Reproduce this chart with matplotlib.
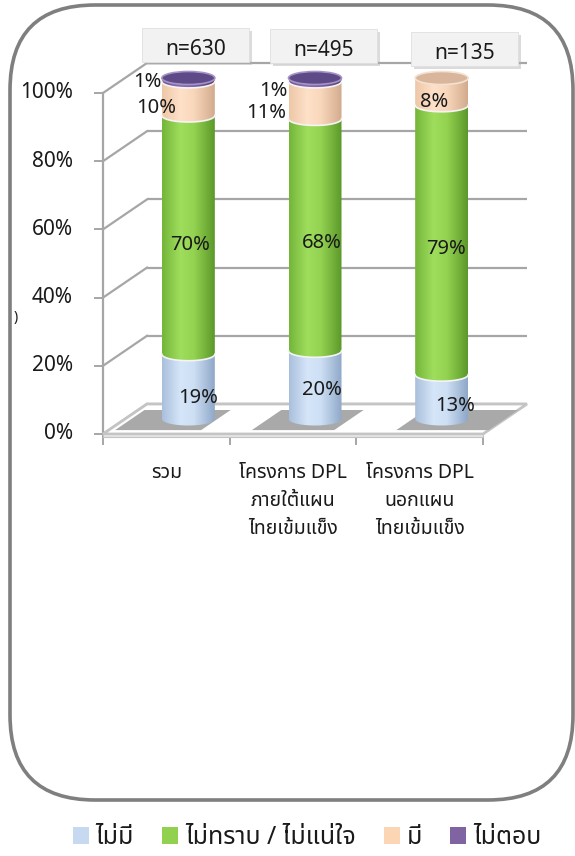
import numpy as np
import matplotlib
matplotlib.use("Agg")
import matplotlib.pyplot as plt
from matplotlib.patches import Polygon, Ellipse, PathPatch, FancyBboxPatch, Rectangle, Patch
from matplotlib.path import Path
from matplotlib.colors import LinearSegmentedColormap
from matplotlib.transforms import IdentityTransform

plt.rcParams['font.family'] = ['Noto Sans', 'Noto Sans Thai']

# ---- data -------------------------------------------------------------
categories = ['รวม',
              'โครงการ DPL\nภายใต้แผน\nไทยเข้มแข็ง',
              'โครงการ DPL\nนอกแผน\nไทยเข้มแข็ง']
sample_sizes = [630, 495, 135]
series_names = ['ไม่มี', 'ไม่ทราบ / ไม่แน่ใจ', 'มี', 'ไม่ตอบ']
no_values = [19, 20, 13]
unsure_values = [70, 68, 79]
yes_values = [10, 11, 8]
no_answer_values = [1, 1, 0]
y_ticks = [0, 20, 40, 60, 80, 100]

series_values = [no_values, unsure_values, yes_values, no_answer_values]

# ---- styling ----------------------------------------------------------
legend_colors = ['#c6d9f1', '#92d050', '#fcd5b5', '#8064a2']
body_stops = [
    ['#a9bfdc', '#d6e6f9', '#cddff4', '#8fa8c8'],
    ['#74b53a', '#9fdd5c', '#94d351', '#5b982a'],
    ['#eec7a7', '#fee1c9', '#f9d7bb', '#d2ab8d'],
    ['#6c5498', '#8b6eb4', '#7f62a7', '#513d77'],
]
cap_colors = ['#b8cde8', '#86c84a', '#d9b69b', '#5e4a86']
cap_edges = ['#e8f0fa', '#c8eca4', '#f3e1d2', '#a693c6']
text_color = '#1a1a1a'
grid_color = '#a6a6a6'

# label shifts in pixels (right, down) from each segment's centre
label_shift = [
    [(10, 11), (7, 5), (13, 9)],
    [(2, 10), (7, 8), (4, 9)],
    [(-32, 10), (-49, 13), (-8, 10)],
    [(-41, 2), (-42, 11), (0, 0)],
]
shadow_spans = [(-0.45, 0.23), (-0.37, 0.28), (-0.23, 0.5)]

W, H = 575, 856
fig = plt.figure(figsize=(W / 100, H / 100), dpi=100)
fig.patch.set_facecolor('white')


def fx(px):
    return px / W


def fy(py):
    return 1 - py / H


# front plane of the 3-D plot area
ax = fig.add_axes([fx(103), fy(434), fx(483) - fx(103), fy(93) - fy(434)])
ax.set_xlim(-0.5, len(categories) - 0.5)
ax.set_ylim(0, 100)
ax.axis('off')

DEPTH = np.array([44.0, 30.0])  # depth vector in pixels (right, up)


def shifted(x, y, f=0.0, extra=(0.0, 0.0)):
    p = ax.transData.transform((x, y)) + f * DEPTH + np.asarray(extra)
    return ax.transData.inverted().transform(p)


px_x = ax.transData.transform((1, 0))[0] - ax.transData.transform((0, 0))[0]
px_y = ax.transData.transform((0, 1))[1] - ax.transData.transform((0, 0))[1]

x0, x1 = -0.5, len(categories) - 0.5

# back wall and side wall gridlines, value axis
for v in y_ticks:
    a = shifted(x0, v, 1)
    b = shifted(x1, v, 1)
    ax.plot([a[0], b[0]], [a[1], b[1]], color=grid_color, lw=1.6,
            clip_on=False, zorder=1, solid_capstyle='butt')
    ax.plot([x0, a[0]], [v, a[1]], color=grid_color, lw=1.6,
            clip_on=False, zorder=1)
    t = shifted(x0, v, 0, (-8, 0))
    ax.plot([t[0], x0], [v, v], color=grid_color, lw=1.4, clip_on=False, zorder=1)
    lp = shifted(x0, v, 0, (-30, 0))
    ax.text(lp[0], lp[1], f'{v}%', ha='right', va='center', fontsize=15,
            color=text_color, clip_on=False)

ax.plot([x0, x0], [0, 100], color=grid_color, lw=1.6, clip_on=False, zorder=1)

# floor
floor = [(x0, 0), (x1, 0), tuple(shifted(x1, 0, 1)), tuple(shifted(x0, 0, 1))]
ax.add_patch(Polygon(floor, closed=True, facecolor='#ffffff',
                     edgecolor='#c4c4c4', lw=2, zorder=1.5, clip_on=False))
front_strip = [(x0, 0), (x1, 0), tuple(shifted(x1, 0, 0, (0, -3))),
               tuple(shifted(x0, 0, 0, (0, -3)))]
ax.add_patch(Polygon(front_strip, closed=True, facecolor='#e3e3e3',
                     edgecolor='#c4c4c4', lw=0.8, zorder=1.5, clip_on=False))
for k in range(len(categories) + 1):
    xb = x0 + k
    t = shifted(xb, 0, 0, (0, -10))
    ax.plot([xb, xb], [0, t[1]], color=grid_color, lw=1.4, clip_on=False, zorder=1)

# floor shadows
for i, (s0, s1) in enumerate(shadow_spans):
    pts = [tuple(shifted(i + s0, 0, 0.13)), tuple(shifted(i + s1, 0, 0.13)),
           tuple(shifted(i + s1, 0, 0.8)), tuple(shifted(i + s0, 0, 0.8))]
    ax.add_patch(Polygon(pts, closed=True, facecolor='#a9a9a9',
                         edgecolor='none', zorder=1.8, clip_on=False))

# category labels below the floor, one text per line
for i, name in enumerate(categories):
    for j, line in enumerate(name.split('\n')):
        p = shifted(i, 0, 0, (0, -44 - 28 * j))
        ax.text(p[0], p[1], line, ha='center', va='baseline', fontsize=14,
                color=text_color, clip_on=False)

# cylinders
half_w = 26.5 / px_x
half_h = 6.5 / px_y
mid_dx = 0.5 * DEPTH[0] / px_x
mid_dy = 0.5 * DEPTH[1] / px_y
grad = np.linspace(0, 1, 256)[None, :]


def lower_arc(xc, y, left_to_right=True, n=48):
    t = np.linspace(np.pi, 2 * np.pi, n)
    if not left_to_right:
        t = t[::-1]
    return np.column_stack([xc + half_w * np.cos(t), y + half_h * np.sin(t)])


for i in range(len(categories)):
    xc = i + mid_dx
    base = mid_dy
    vals = [s[i] for s in series_values]
    top_series = max(k for k, v in enumerate(vals) if v > 0)
    for k, v in enumerate(vals):
        if v <= 0:
            continue
        ylo, yhi = base, base + v
        verts = np.vstack([lower_arc(xc, ylo, True), lower_arc(xc, yhi, False)])
        path = Path(np.vstack([verts, verts[:1]]), closed=True)
        clip = PathPatch(path, transform=ax.transData, facecolor='none',
                         edgecolor='none')
        ax.add_patch(clip)
        cmap = LinearSegmentedColormap.from_list(
            f'cyl{k}', list(zip([0, 0.35, 0.6, 1], body_stops[k])))
        im = ax.imshow(grad, cmap=cmap, aspect='auto', origin='lower',
                       extent=[xc - half_w, xc + half_w, ylo - half_h, yhi + half_h],
                       zorder=3 + 0.1 * k, interpolation='bilinear')
        im.set_clip_box(fig.bbox)
        im.set_clip_path(clip)
        if k > 0:
            arc = lower_arc(xc, ylo)
            ax.plot(arc[:, 0], arc[:, 1], color='#f4f4f4', lw=1.2, zorder=3.5 + 0.1 * k,
                    clip_on=False)
        if k == top_series:
            ax.add_patch(Ellipse((xc, yhi), 2 * half_w, 2 * half_h,
                                 facecolor=cap_colors[k], edgecolor=cap_edges[k],
                                 lw=1.2, zorder=4.5, clip_on=False))
        # value label
        dx, dy = label_shift[k][i]
        lp = shifted(xc, (ylo + yhi) / 2, 0, (dx, -dy))
        ax.text(lp[0], lp[1], f'{v}%', ha='center', va='center', fontsize=14.5,
                color=text_color, zorder=10, clip_on=False)
        base = yhi

ax.set_xlim(x0, x1)
ax.set_ylim(0, 100)

# sample size boxes above each bar
box_shift = [(7.5, 33), (8.5, 32), (22.5, 29)]
for i, n in enumerate(sample_sizes):
    top = ax.transData.transform((i + mid_dx, 100 + mid_dy))
    cx, cy = top[0] + box_shift[i][0], top[1] + box_shift[i][1]
    bw, bh = 107, 34
    fig.add_artist(Rectangle((cx - bw / 2 + 3, cy - bh / 2 - 3), bw, bh,
                             transform=IdentityTransform(), facecolor='#b0b0b0',
                             alpha=0.45, edgecolor='none', zorder=11))
    fig.add_artist(Rectangle((cx - bw / 2, cy - bh / 2), bw, bh,
                             transform=IdentityTransform(), facecolor='#f2f2f2',
                             edgecolor='#e0e0e0', lw=0.6, zorder=12))
    fig.text(cx / W, (cy - 4) / H, f'n={n}', ha='center', va='center',
             fontsize=15, fontweight='medium', color=text_color, zorder=13)

# outer rounded frame
fig.add_artist(FancyBboxPatch((10, H - 800), 563, 795,
                              boxstyle='round,pad=0,rounding_size=85',
                              transform=IdentityTransform(), facecolor='none',
                              edgecolor='#7f7f7f', lw=2.6, zorder=0))
fig.text(fx(16), fy(318), ')', fontsize=10, color=text_color, ha='center', va='center')

# legend
handles = [Patch(facecolor=c, edgecolor='none') for c in legend_colors]
fig.legend(handles, series_names, loc='center', bbox_to_anchor=(fx(307), fy(838)),
           ncol=4, frameon=False, fontsize=18, handlelength=0.64,
           handleheight=0.64, handletextpad=0.28, columnspacing=1.12,
           borderaxespad=0, labelcolor=text_color)

fig.savefig('out.png', dpi=100)
